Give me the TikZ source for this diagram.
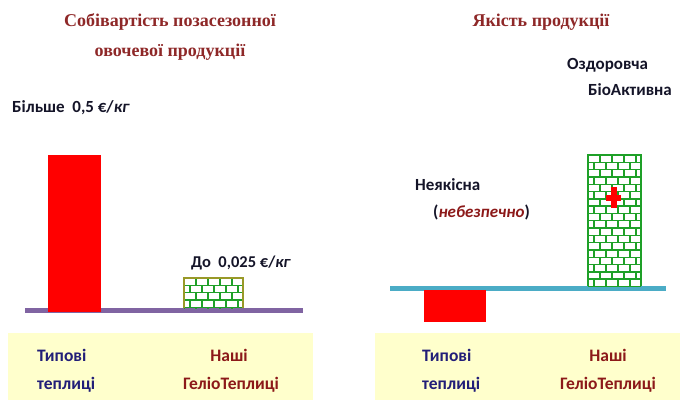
\documentclass[tikz,border=0pt]{standalone}
\usepackage{fontspec}
\setmainfont{Carlito}
\newfontfamily\titlefont{Liberation Serif}
\definecolor{titlered}{RGB}{142,40,40}
\definecolor{navytxt}{RGB}{34,30,120}
\definecolor{redtxt}{RGB}{140,25,25}
\definecolor{blacktxt}{RGB}{20,20,40}
\definecolor{bandyel}{RGB}{255,255,204}
\definecolor{axispurple}{RGB}{128,100,162}
\definecolor{axiscyan}{RGB}{75,172,198}
\definecolor{brickgreen}{RGB}{30,160,40}
\definecolor{olive}{RGB}{153,153,40}
\definecolor{barred}{RGB}{255,0,0}
\newcommand\brickwall[4]{%
  \begin{scope}
    \clip (#1,#2) rectangle (#3,#4);
    \foreach \r in {0,...,19} {
      \pgfmathsetmacro\yy{#2+\r*7.3}
      \pgfmathsetmacro\off{mod(\r,2)*6}
      \draw[mortar] (#1,\yy) -- (#3,\yy);
      \foreach \c in {0,...,5} {
        \pgfmathsetmacro\xx{#1+\off+\c*12}
        \draw[mortar] (\xx,\yy) -- (\xx,\yy+7.3);
      }
    }
  \end{scope}}
\tikzset{
  mortar/.style={draw=brickgreen, line width=1.4pt},
  titletxt/.style={font=\titlefont\bfseries\fontsize{18}{21}\selectfont, text=titlered, inner sep=0pt},
  labtxt/.style={font=\bfseries\fontsize{17}{20}\selectfont, text=blacktxt, inner sep=0pt},
  smalllab/.style={font=\bfseries\fontsize{16.5}{19}\selectfont, text=blacktxt, inner sep=0pt},
  typtxt/.style={font=\bfseries\fontsize{17.5}{20}\selectfont, text=navytxt, inner sep=0pt},
  ourtxt/.style={font=\bfseries\fontsize{17.5}{20}\selectfont, text=redtxt, inner sep=0pt},
  band/.style={fill=bandyel},
  redbar/.style={fill=barred}
}
\begin{document}
\begin{tikzpicture}[x=1pt,y=-1pt]
\useasboundingbox (0,0) rectangle (680,400);
% bands
\fill[band] (8,333) rectangle (313,400);
\fill[band] (375,333) rectangle (680,400);
% left panel
\draw[axispurple, line width=5pt] (25,310) -- (303,310);
\fill[redbar] (48,155) rectangle (101,312);
\fill[white] (184,278) rectangle (243,308);
\brickwall{184}{278}{243}{308}
\draw[olive, line width=2pt] (184,308) -- (184,278) -- (243,278) -- (243,308);
% right panel
\draw[axiscyan, line width=5pt] (390,288) -- (666,288);
\fill[redbar] (424,290) rectangle (486,322);
\fill[white] (588,155) rectangle (641,286);
\brickwall{588}{155}{641}{286}
\draw[brickgreen, line width=2.2pt] (588,286) -- (588,155) -- (641,155) -- (641,286);
\fill[barred] (610.5,187) rectangle (616.5,208);
\fill[barred] (606,194.5) rectangle (621,200.5);
% titles
\node[titletxt] (t1) at (170,22) {Собівартість позасезонної};
\node[titletxt] (t2) at (170,52) {овочевої продукції};
\node[titletxt] (t3) at (541,22) {Якість продукції};
% labels
\node[labtxt, anchor=west] (l1) at (12,108) {Більше\ \ 0,5 €/\textit{кг}};
\node[smalllab] (l2) at (241,263) {До\ \ 0,025 €/\textit{кг}};
\node[labtxt, anchor=west] (l3) at (567,65) {Оздоровча};
\node[labtxt, anchor=west] (l4) at (588,90) {БіоАктивна};
\node[labtxt, anchor=west] (l5) at (415,185) {Неякісна};
\node[labtxt, anchor=west] (l6) at (433,212) {(\textcolor{redtxt}{\itshape небезпечно})};
% band texts
\node[typtxt, anchor=west] (b1) at (37,355) {Типові};
\node[typtxt, anchor=west] (b2) at (37,385) {теплиці};
\node[ourtxt] (b3) at (229,355) {Наші};
\node[ourtxt] (b4) at (231,385) {ГеліоТеплиці};
\node[typtxt, anchor=west] (b5) at (422,355) {Типові};
\node[typtxt, anchor=west] (b6) at (422,385) {теплиці};
\node[ourtxt] (b7) at (608,355) {Наші};
\node[ourtxt] (b8) at (608,385) {ГеліоТеплиці};
\end{tikzpicture}
\end{document}
